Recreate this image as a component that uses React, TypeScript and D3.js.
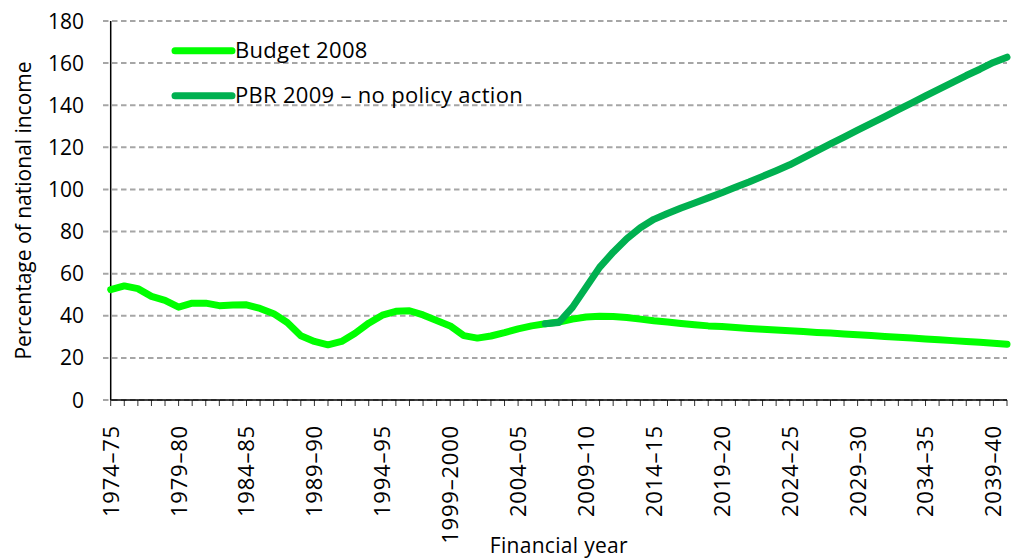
import React from "react";
import * as d3 from "d3";

// financial years 1974-75 .. 2040-41
const startYears = d3.range(1974, 2041);
const fyLabel = (y: number) => (y === 1999 ? "1999–2000" : `${y}–${String(y + 1).slice(2)}`);
const categories = startYears.map(fyLabel);

const tickLabels = [
  "1974–75", "1979–80", "1984–85", "1989–90", "1994–95", "1999–2000", "2004–05",
  "2009–10", "2014–15", "2019–20", "2024–25", "2029–30", "2034–35", "2039–40",
];

const yTicks = [0, 20, 40, 60, 80, 100, 120, 140, 160, 180];

// Budget 2008, 1974-75 .. 2040-41
const budget2008 = [
  52.4, 54.2, 52.9, 49.2, 47.3, 44.1, 46.0, 46.0, 44.8, 45.1,
  45.2, 43.5, 41.0, 36.8, 30.5, 27.8, 26.2, 27.8, 31.7, 36.5,
  40.3, 42.1, 42.4, 40.4, 37.8, 35.2, 30.6, 29.4, 30.4, 32.0,
  33.8, 35.2, 36.2, 37.0, 38.4, 39.4, 39.8, 39.7, 39.2, 38.4,
  37.6, 37.0, 36.3, 35.7, 35.2, 34.9, 34.4, 34.0, 33.6, 33.3,
  32.9, 32.5, 32.1, 31.8, 31.4, 31.0, 30.6, 30.2, 29.8, 29.4,
  29.0, 28.6, 28.2, 27.8, 27.4, 27.0, 26.5,
];

// PBR 2009 – no policy action, 2006-07 .. 2040-41
const pbrStart = "2006–07";
const pbr2009 = [
  36.2, 36.8, 44.0, 53.5, 63.0, 70.2, 76.6, 81.8, 85.8, 88.6,
  91.2, 93.6, 96.0, 98.4, 101.0, 103.5, 106.2, 108.9, 111.7, 115.0,
  118.3, 121.6, 124.9, 128.2, 131.4, 134.6, 137.9, 141.1, 144.4, 147.6,
  150.8, 154.1, 157.1, 160.3, 162.8,
];

const W = 1012;
const H = 559;
const left = 110.7;
const right = 1007;
const top = 21;
const bottom = 400;
const font = "'Open Sans', 'Noto Sans', sans-serif";

const App = () => {
  const x = d3.scalePoint<string>().domain(categories).range([left, right]);
  const y = d3.scaleLinear().domain([0, 180]).range([bottom, top]);

  const line = d3
    .line<[string, number]>()
    .x((d) => x(d[0]) as number)
    .y((d) => y(d[1]));

  const budgetPts: [string, number][] = budget2008.map((v, i) => [categories[i], v]);
  const off = categories.indexOf(pbrStart);
  const pbrPts: [string, number][] = pbr2009.map((v, i) => [categories[off + i], v]);

  return (
    <svg
      width={W}
      height={H}
      style={{ position: "absolute", left: 0, top: 0, background: "#fff" }}
      fontFamily={font}
    >
      {/* gridlines */}
      {yTicks.map((t) => (
        <line
          key={t}
          x1={103}
          x2={right}
          y1={y(t)}
          y2={y(t)}
          stroke="#a6a6a6"
          strokeWidth={2}
          strokeDasharray="5.5,3.5"
        />
      ))}
      {/* y tick labels */}
      {yTicks.map((t) => (
        <text key={t} x={84} y={y(t)} dy="0.36em" textAnchor="end" fontSize={21} fill="#000">
          {t}
        </text>
      ))}
      <text
        transform={`translate(31,${(top + bottom) / 2}) rotate(-90)`}
        textAnchor="middle"
        fontSize={21}
        fill="#000"
      >
        Percentage of national income
      </text>

      {/* x axis */}
      {categories.map((c) => (
        <line key={c} x1={x(c)} x2={x(c)} y1={bottom} y2={bottom + 6} stroke="#333" strokeWidth={1} />
      ))}
      {tickLabels.map((c) => (
        <text
          key={c}
          transform={`translate(${x(c)},425) rotate(-90)`}
          dy="0.36em"
          textAnchor="end"
          fontSize={22}
          letterSpacing={0.8}
          fill="#000"
        >
          {c}
        </text>
      ))}
      <text x={(left + right) / 2} y={553} textAnchor="middle" fontSize={21} letterSpacing={0.3} fill="#000">
        Financial year
      </text>

      <line x1={left} x2={left} y1={top} y2={bottom} stroke="#000" strokeWidth={1.5} />
      <line x1={left} x2={right} y1={bottom} y2={bottom} stroke="#000" strokeWidth={1.5} />

      {/* series */}
      <path d={line(budgetPts) || ""} fill="none" stroke="#00ff00" strokeWidth={7} strokeLinejoin="round" strokeLinecap="round" />
      <path d={line(pbrPts) || ""} fill="none" stroke="#00b050" strokeWidth={7} strokeLinejoin="round" strokeLinecap="round" />

      {/* legend */}
      <line x1={175} x2={232} y1={50.7} y2={50.7} stroke="#00ff00" strokeWidth={7} strokeLinecap="round" />
      <text x={235} y={57.5} fontSize={22} letterSpacing={0.3} fill="#000">Budget 2008</text>
      <line x1={175} x2={232} y1={95.7} y2={95.7} stroke="#00b050" strokeWidth={7} strokeLinecap="round" />
      <text x={235} y={102.7} fontSize={22} letterSpacing={0.3} fill="#000">PBR 2009 – no policy action</text>
    </svg>
  );
};

export default App;
